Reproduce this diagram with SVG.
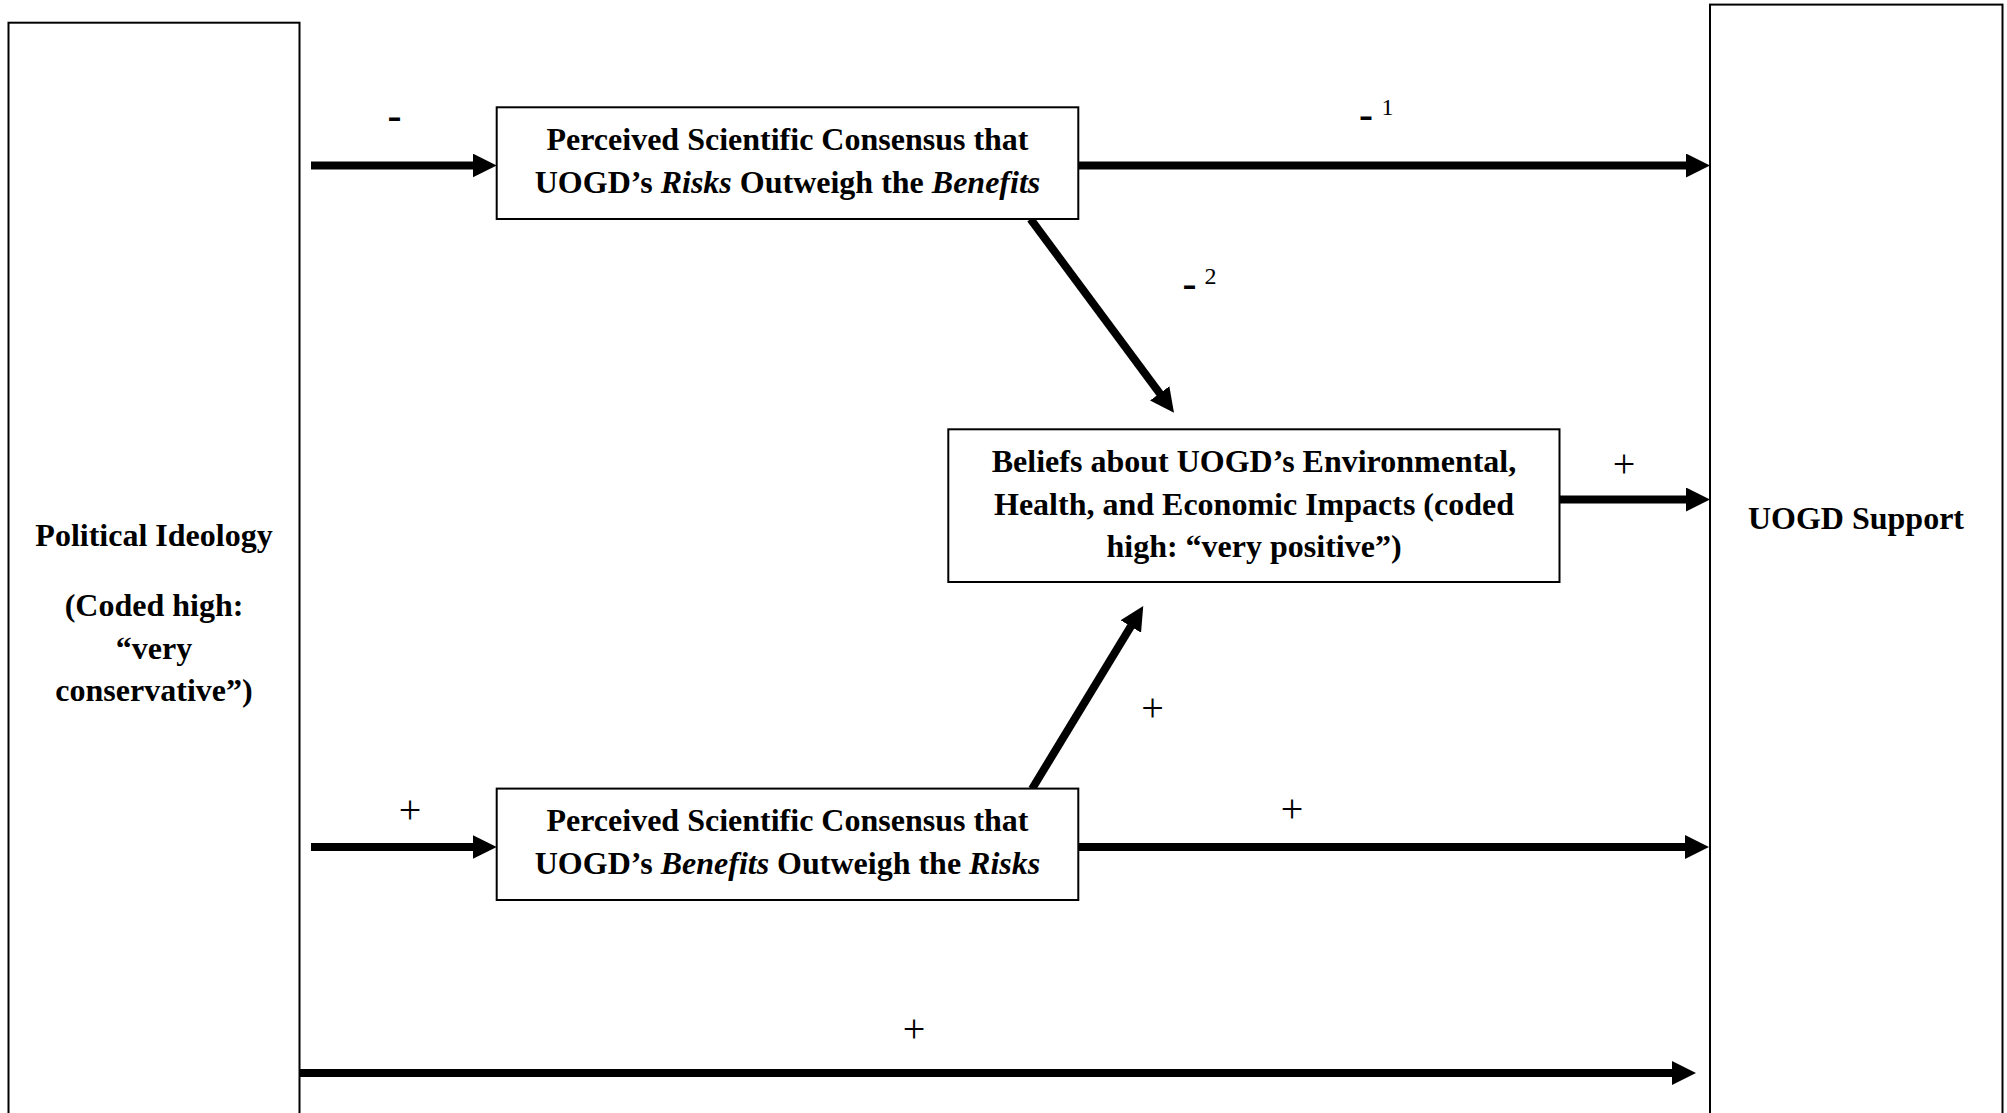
<svg xmlns="http://www.w3.org/2000/svg" width="2007" height="1113" viewBox="0 0 2007 1113">
<style>
.box{fill:#fff;stroke:#000;stroke-width:2}
.t{font-family:"Liberation Serif","Times New Roman",serif;font-size:32px;font-weight:bold;fill:#000;text-anchor:middle}
.i{font-style:italic}
.plus{font-family:"Liberation Serif","Times New Roman",serif;font-size:40px;fill:#000;text-anchor:middle}
.dash{font-family:"Liberation Serif","Times New Roman",serif;font-size:42px;font-weight:bold;fill:#000;text-anchor:middle}
.sup{font-family:"Liberation Serif","Times New Roman",serif;font-size:24px;fill:#000;text-anchor:middle}
.c{stroke:#000;stroke-width:8;fill:none;marker-end:url(#ah)}
</style>
<defs>
<marker id="ah" viewBox="0 0 24 24" refX="1" refY="12" markerWidth="24" markerHeight="24" markerUnits="userSpaceOnUse" orient="auto">
<path d="M0,0 L24,12 L0,24 z" fill="#000"/>
</marker>
</defs>
<rect width="2007" height="1113" fill="#fff"/>
<g id="connectors">
<line class="c" x1="311" y1="165.5" x2="473.7" y2="165.5"/>
<line class="c" x1="1079" y1="165.5" x2="1687" y2="165.5"/>
<line class="c" x1="1030.5" y1="219" x2="1160.3" y2="394.2"/>
<line class="c" x1="1560" y1="499.5" x2="1687" y2="499.5"/>
<line class="c" x1="1032" y1="789" x2="1131.3" y2="625.6"/>
<line class="c" x1="311" y1="847" x2="473.7" y2="847"/>
<line class="c" x1="1079" y1="847" x2="1686" y2="847"/>
<line class="c" x1="300" y1="1073" x2="1673" y2="1073"/>
</g>
<g id="labels">
<text class="dash" x="394.6" y="129">-</text>
<text class="dash" x="1366" y="128">-</text>
<text class="sup" x="1387.5" y="115">1</text>
<text class="dash" x="1189.5" y="296.7">-</text>
<text class="sup" x="1210.5" y="284">2</text>
<text class="plus" x="1624" y="477">+</text>
<text class="plus" x="1152.5" y="721">+</text>
<text class="plus" x="410" y="823">+</text>
<text class="plus" x="1292" y="822">+</text>
<text class="plus" x="914" y="1042">+</text>
</g>
<g id="political-ideology">
<rect class="box" x="8.5" y="22.7" width="291" height="1120"/>
<text class="t" x="154" y="546">Political Ideology</text>
<text class="t" x="154" y="616">(Coded high:</text>
<text class="t" x="154" y="659">“very</text>
<text class="t" x="154" y="701">conservative”)</text>
</g>
<g id="risks-consensus">
<rect class="box" x="496.7" y="107.3" width="581.6" height="111.7"/>
<text class="t" x="787.5" y="150">Perceived Scientific Consensus that</text>
<text class="t" x="787.5" y="192.5">UOGD’s <tspan class="i">Risks</tspan> Outweigh the <tspan class="i">Benefits</tspan></text>
</g>
<g id="beliefs">
<rect class="box" x="948.3" y="429.3" width="611.2" height="152.7"/>
<text class="t" x="1254" y="472">Beliefs about UOGD’s Environmental,</text>
<text class="t" x="1254" y="514.5">Health, and Economic Impacts (coded</text>
<text class="t" x="1254" y="557">high: “very positive”)</text>
</g>
<g id="benefits-consensus">
<rect class="box" x="496.7" y="788.6" width="581.6" height="111.4"/>
<text class="t" x="787.5" y="831">Perceived Scientific Consensus that</text>
<text class="t" x="787.5" y="873.5">UOGD’s <tspan class="i">Benefits</tspan> Outweigh the <tspan class="i">Risks</tspan></text>
</g>
<g id="uogd-support">
<rect class="box" x="1710" y="4.6" width="292.5" height="1130"/>
<text class="t" x="1856" y="529">UOGD Support</text>
</g>
</svg>
